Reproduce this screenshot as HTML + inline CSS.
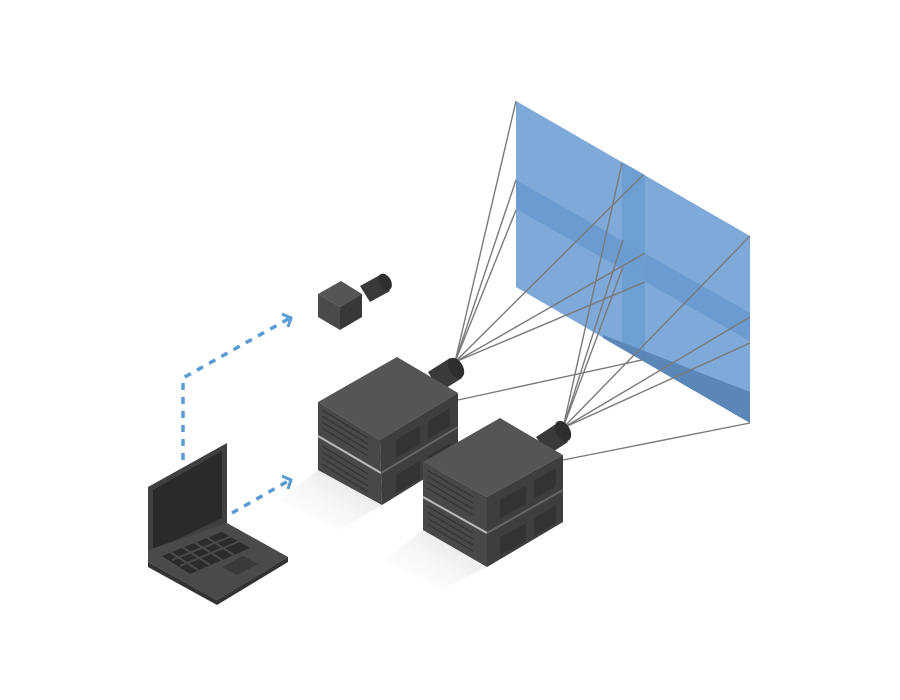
<!DOCTYPE html>
<html><head><meta charset="utf-8"><style>html,body{margin:0;padding:0;background:#fff}svg{display:block}</style></head>
<body>
<svg width="900" height="700" viewBox="0 0 900 700" xmlns="http://www.w3.org/2000/svg">
<defs>
<linearGradient id="sh" x1="1" y1="0" x2="0" y2="1"><stop offset="0" stop-color="#d8d8d8"/><stop offset="1" stop-color="#fff" stop-opacity="0"/></linearGradient>
</defs>
<!-- screen -->
<polygon points="516,101 750,236 750,423 516,287" fill="#7ea9d8"/>
<polygon points="516,180 750,313 750,341 516,209" fill="#6b9bd0"/>
<polygon points="622,162 645,175 645,361 622,348" fill="#6d9dd1" opacity="0.9"/>
<polygon points="603,335 750,392 750,423 603,338" fill="#5a87b8"/>
<!-- shadows -->
<polygon points="318,470 382,505 340,530 280,500" fill="url(#sh)"/>
<polygon points="423,530 487,567 440,590 385,560" fill="url(#sh)"/>
<!-- lines -->
<g stroke="#7a7a7a" stroke-width="1.4" fill="none">
<line x1="455" y1="362" x2="516" y2="101"/>
<line x1="455" y1="362" x2="516" y2="180"/>
<line x1="455" y1="362" x2="516" y2="210"/>
<line x1="455" y1="362" x2="643" y2="175"/>
<line x1="455" y1="362" x2="645" y2="253"/>
<line x1="455" y1="362" x2="645" y2="282"/>
<line x1="458" y1="400" x2="642" y2="360"/>
<line x1="563" y1="428" x2="622" y2="163"/>
<line x1="563" y1="428" x2="623" y2="240"/>
<line x1="563" y1="428" x2="623" y2="267"/>
<line x1="563" y1="428" x2="750" y2="236"/>
<line x1="563" y1="428" x2="750" y2="317"/>
<line x1="563" y1="428" x2="750" y2="343"/>
<line x1="563" y1="460" x2="750" y2="423"/>
</g>
<!-- projector 1 lens -->
<polygon points="428,372 450,358 462,378 440,392" fill="#3a3a3a"/>
<ellipse cx="456" cy="368" rx="7" ry="11" transform="rotate(-30 456 368)" fill="#2e2e2e"/>
<!-- projector 1 -->
<polygon points="318,402 397,357 458,393 380,440" fill="#555"/>
<polygon points="318,402 380,440 382,505 318,470" fill="#484848"/>
<polygon points="380,440 458,393 458,458 382,505" fill="#3e3e3e"/>
<line x1="318" y1="436" x2="381" y2="473" stroke="#bbb" stroke-width="2"/>
<line x1="381" y1="473" x2="458" y2="427" stroke="#666" stroke-width="2"/>
<g stroke="#333" stroke-width="1.3">
<line x1="322" y1="410" x2="368" y2="438"/><line x1="322" y1="416" x2="368" y2="444"/><line x1="322" y1="422" x2="368" y2="450"/><line x1="322" y1="428" x2="368" y2="456"/>
<line x1="322" y1="446" x2="368" y2="474"/><line x1="322" y1="452" x2="368" y2="480"/><line x1="322" y1="458" x2="368" y2="486"/><line x1="322" y1="464" x2="368" y2="492"/>
</g>
<polygon points="396,440 420,426 420,444 396,458" fill="#333"/><polygon points="428,421 450,408 450,426 428,439" fill="#333"/>
<polygon points="396,475 420,461 420,479 396,493" fill="#333"/><polygon points="428,456 450,443 450,461 428,474" fill="#333"/>
<!-- projector 2 lens -->
<polygon points="536,437 556,424 568,442 548,455" fill="#3a3a3a"/>
<ellipse cx="563" cy="431" rx="7" ry="11" transform="rotate(-30 563 431)" fill="#2e2e2e"/>
<!-- projector 2 -->
<polygon points="423,462 500,418 563,455 487,497" fill="#555"/>
<polygon points="423,462 487,497 487,567 423,530" fill="#484848"/>
<polygon points="487,497 563,455 563,522 487,567" fill="#3e3e3e"/>
<line x1="423" y1="497" x2="487" y2="533" stroke="#bbb" stroke-width="2"/>
<line x1="487" y1="533" x2="563" y2="490" stroke="#666" stroke-width="2"/>
<g stroke="#333" stroke-width="1.3">
<line x1="427" y1="470" x2="473" y2="497"/><line x1="427" y1="476" x2="473" y2="503"/><line x1="427" y1="482" x2="473" y2="509"/><line x1="427" y1="488" x2="473" y2="515"/>
<line x1="427" y1="506" x2="473" y2="533"/><line x1="427" y1="512" x2="473" y2="539"/><line x1="427" y1="518" x2="473" y2="545"/><line x1="427" y1="524" x2="473" y2="551"/>
</g>
<polygon points="500,500 526,486 526,504 500,518" fill="#333"/><polygon points="534,481 556,468 556,486 534,499" fill="#333"/>
<polygon points="500,537 526,523 526,541 500,555" fill="#333"/><polygon points="534,518 556,505 556,523 534,536" fill="#333"/>
<!-- camera -->
<polygon points="360,286 380,275 390,291 370,302" fill="#3a3a3a"/>
<ellipse cx="385" cy="282" rx="6" ry="9" transform="rotate(-30 385 282)" fill="#2e2e2e"/>
<polygon points="318,294 341,281 362,294 340,307" fill="#555"/>
<polygon points="318,294 340,307 340,330 318,317" fill="#4a4a4a"/>
<polygon points="340,307 362,294 362,317 340,330" fill="#383838"/>
<!-- arrows -->
<g stroke="#5b9bd5" stroke-width="3.5" fill="none" stroke-dasharray="7,7">
<polyline points="183,460 183,378 290,318"/>
<line x1="232" y1="513" x2="290" y2="480"/>
</g>
<g stroke="#5b9bd5" stroke-width="3" fill="none">
<polyline points="282,314 291,318 288,327"/>
<polyline points="282,476 291,480 288,489"/>
</g>
<!-- laptop -->
<polygon points="148,487 227,443 227,523 148,560" fill="#3f3f3f"/>
<polygon points="153,490 222,451 222,518 153,551" fill="#2a2a2a"/>
<polygon points="148,550 227,523 288,557 217,600 148,562" fill="#4a4a4a"/>
<polygon points="148,562 217,600 288,557 288,562 217,605 148,567" fill="#333"/>
<polygon points="162,556 222,532 250,548 190,574" fill="#2b2b2b"/>
<g stroke="#4a4a4a" stroke-width="2">
<line x1="170" y1="552" x2="198" y2="570"/><line x1="182" y1="547" x2="210" y2="565"/><line x1="194" y1="542" x2="222" y2="560"/><line x1="206" y1="537" x2="234" y2="555"/>
<line x1="172" y1="560" x2="232" y2="536"/><line x1="180" y1="566" x2="240" y2="541"/>
</g>
<polygon points="222,567 243,556 258,564 237,575" fill="#3a3a3a"/>
</svg>
</body></html>
